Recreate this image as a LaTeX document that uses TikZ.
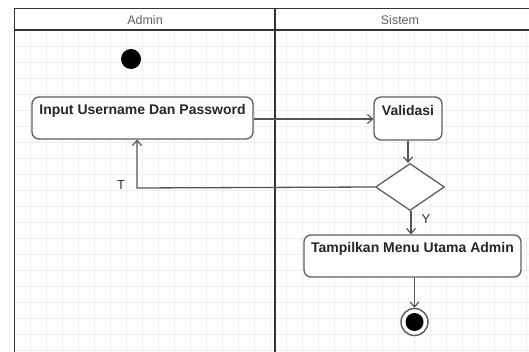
\documentclass[tikz,border=0pt]{standalone}
\usepackage{fontspec}
\setmainfont{Liberation Sans}
\usetikzlibrary{arrows.meta,shapes.geometric}
\definecolor{frameline}{HTML}{333333}
\definecolor{boxline}{HTML}{5E5E5E}
\definecolor{flowline}{HTML}{555555}
\definecolor{gridline}{HTML}{EDEDED}
\definecolor{titletext}{HTML}{606060}
\tikzset{
  lane/.style={draw=frameline, line width=1.8pt},
  action/.style={draw=boxline, line width=1.3pt, rounded corners=7pt, fill=white, inner sep=0pt},
  actiontext/.style={font=\bfseries\fontsize{14}{16}\selectfont, text=black!85, inner sep=0pt},
  decision/.style={draw=boxline, line width=1.3pt, diamond, fill=white, inner sep=0pt},
  flow/.style={draw=flowline, line width=1.3pt, -{Straight Barb[length=5pt,width=9pt,line width=1.2pt]}},
  guard/.style={font=\fontsize{13}{15}\selectfont, text=black!80, inner sep=0pt},
  lanetitle/.style={font=\fontsize{12.5}{14}\selectfont, text=titletext, inner sep=0pt},
}
\begin{document}
\begin{tikzpicture}[x=1pt, y=-1pt]
  \useasboundingbox (0,0) rectangle (529,352);
  \begin{scope}
    \clip (0,0) rectangle (529,352);
    % canvas grid inside the swimlanes
    \fill[white] (14.5,30) rectangle (540,360);
    \foreach \gx in {30.5,46.5,...,530} \draw[gridline, line width=0.6pt] (\gx,30) -- (\gx,360);
    \foreach \gy in {46,62,...,360} \draw[gridline, line width=0.6pt] (14.5,\gy) -- (540,\gy);
    % swimlane frame
    \draw[lane] (14.5,360) -- (14.5,8.5) -- (540,8.5);
    \draw[lane] (14.5,30) -- (540,30);
    \draw[lane] (275,8.5) -- (275,360);
  \end{scope}
  \node[lanetitle] (admintitle) at (145,20) {Admin};
  \node[lanetitle] (sistemtitle) at (400,20) {Sistem};

  % start and end states
  \node[circle, fill=black, minimum size=20pt, inner sep=0pt] (start) at (131,59) {};
  \node[circle, draw=boxline, line width=1.5pt, fill=white, minimum size=27pt, inner sep=0pt] (stop) at (414.5,322) {};
  \node[circle, fill=black, minimum size=18pt, inner sep=0pt] (stopdot) at (stop.center) {};

  % actions
  \node[action, minimum width=221pt, minimum height=42pt] (input) at (142.5,118) {};
  \node[actiontext] (inputtext) at ([yshift=-14.5pt]input.north) {Input Username Dan Password};
  \node[action, minimum width=68pt, minimum height=43pt] (valid) at (408,118.5) {};
  \node[actiontext] (validtext) at ([yshift=-14pt]valid.north) {Validasi};
  \node[decision, minimum width=69pt, minimum height=47pt] (check) at (410,187) {};
  \node[action, minimum width=217pt, minimum height=42pt] (menu) at (412.5,256) {};
  \node[actiontext] (menutext) at ([yshift=-15pt]menu.north) {Tampilkan Menu Utama Admin};

  % control flow
  \draw[flow] (input.east |- 0,119) -- (valid.west |- 0,119);
  \draw[flow] (valid.south -| 408,0) -- (check.north -| 408,0);
  \coordinate (back) at (137,188);
  \draw[flow] (check.west) -- (back) -- (input.south -| back);
  \draw[flow] (check.south -| 411,0) -- (menu.north -| 411,0);
  \draw[flow] (menu.south -| 414.5,0) -- (stop.north);

  % guards
  \node[guard] (guardt) at (121,185) {T};
  \node[guard] (guardy) at (426,219) {Y};
\end{tikzpicture}
\end{document}
